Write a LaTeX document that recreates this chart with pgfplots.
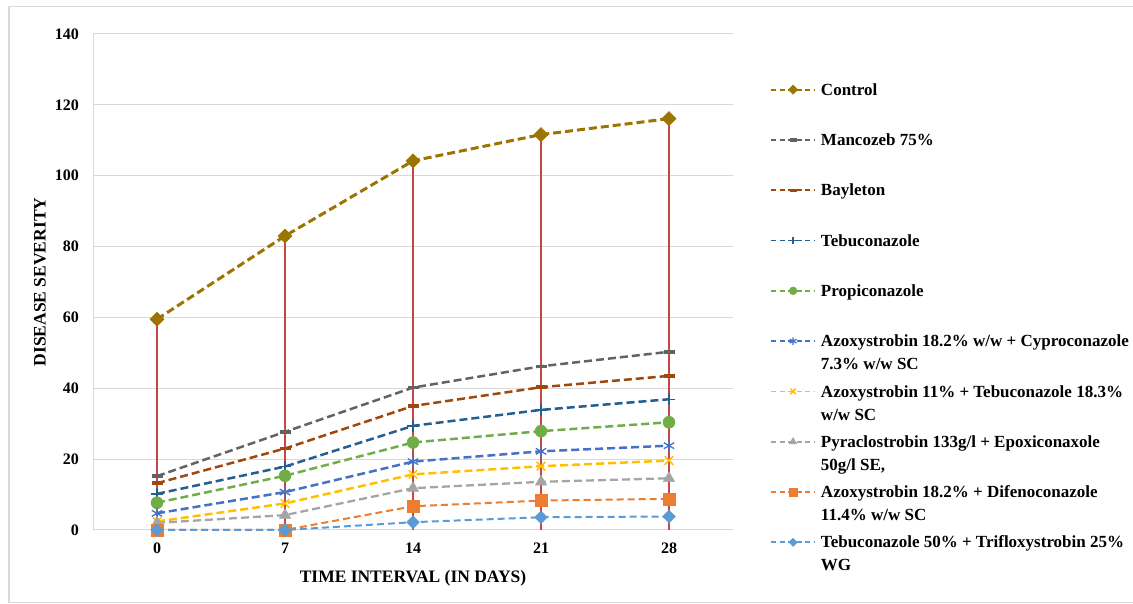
\documentclass[border=0pt]{standalone}
\usepackage{pgfplots}
\pgfplotsset{compat=1.18}
\usepackage{fontspec}
\setmainfont{Liberation Serif}
\definecolor{cControl}{RGB}{156,116,0}
\definecolor{cManco}{RGB}{99,99,99}
\definecolor{cBayl}{RGB}{158,72,14}
\definecolor{cTebu}{RGB}{37,94,145}
\definecolor{cProp}{RGB}{112,173,71}
\definecolor{cAzCy}{RGB}{68,114,196}
\definecolor{cAzTe}{RGB}{255,192,0}
\definecolor{cPyra}{RGB}{165,165,165}
\definecolor{cAzDi}{RGB}{237,125,49}
\definecolor{cTeTr}{RGB}{91,155,213}
\definecolor{cDrop}{RGB}{200,70,70}
\definecolor{cGrid}{RGB}{217,217,217}
\begin{document}
\begin{tikzpicture}[x=1pt,y=1pt]
\begin{axis}[
  at={(93pt,74pt)}, anchor=south west,
  scale only axis, width=640pt, height=496pt,
  xmin=-0.5, xmax=4.5, ymin=0, ymax=140,
  xtick={0,1,2,3,4}, xticklabels={0,7,14,21,28},
  ytick={0,20,...,140},
  ymajorgrids, grid style={draw=cGrid, line width=1pt},
  axis x line=bottom, axis y line=left,
  axis line style={draw=cGrid, line width=1pt, -},
  major tick length=0pt,
  clip=false,
  /pgf/number format/assume math mode=true,
  tick label style={font=\fontsize{16}{19}\selectfont\bfseries},
  yticklabel style={inner sep=0pt, anchor=east, xshift=-14pt},
  xticklabel style={inner sep=0pt, anchor=north, yshift=-13pt},
  xlabel={TIME INTERVAL (IN DAYS)},
  ylabel={DISEASE SEVERITY},
  label style={font=\fontsize{17.5}{21}\selectfont\bfseries},
  xlabel style={at={(axis description cs:0.5,-0.0968)}, anchor=center},
  ylabel style={at={(axis description cs:-0.0828,0.5)}, rotate=0, anchor=center},
  legend cell align=left,
  legend style={at={(1.0578,0.9389)}, anchor=north west, draw=none, fill=none,
    inner sep=0pt, row sep=0pt, column sep=2pt,
    font=\fontsize{17}{23}\selectfont\bfseries,
    nodes={inner sep=3pt, text height=27.7pt, text depth=16.6pt}},
  legend image code/.code={%
    \draw[mark repeat=2, mark phase=2, line width=1.8pt, dash pattern=on 5pt off 3.5pt,
      every mark/.append style={scale=0.65}]
    plot coordinates {(0pt,0pt) (22pt,0pt) (44pt,0pt)};%
  },
]
% drop lines
\addplot[ycomb, draw=cDrop, line width=1.3pt, no marks, forget plot] coordinates {
(0,59.5) (1,83.0) (2,104.2) (3,111.6) (4,116.1)};
\addplot[draw=cControl, line width=3pt, dash pattern=on 8pt off 4pt,
  mark=square*, mark size=5pt, mark options={solid, rotate=45, fill=cControl, line width=0.5pt}]
coordinates {(0,59.5) (1,83.0) (2,104.2) (3,111.6) (4,116.1)};
\addlegendentry{Control}
\addplot[draw=cManco, line width=2.5pt, dash pattern=on 8pt off 4pt,
  mark=-, mark size=5.5pt, mark options={solid, line width=3.5pt}]
coordinates {(0,15.2) (1,27.7) (2,40.2) (3,46.2) (4,50.3)};
\addlegendentry{Mancozeb 75\%}
\addplot[draw=cBayl, line width=2.5pt, dash pattern=on 8pt off 4pt,
  mark=-, mark size=5.5pt, mark options={solid, line width=3.5pt}]
coordinates {(0,13.2) (1,23.0) (2,35.0) (3,40.3) (4,43.5)};
\addlegendentry{Bayleton}
\addplot[draw=cTebu, line width=2.5pt, dash pattern=on 8pt off 4pt,
  mark=+, mark size=6pt, mark options={solid, line width=1.5pt}]
coordinates {(0,10.2) (1,17.9) (2,29.4) (3,33.9) (4,36.9)};
\addlegendentry{Tebuconazole}
\addplot[draw=cProp, line width=2.5pt, dash pattern=on 8pt off 4pt,
  mark=*, mark size=6pt, mark options={solid, fill=cProp, line width=0.5pt}]
coordinates {(0,7.7) (1,15.3) (2,24.7) (3,27.9) (4,30.4)};
\addlegendentry{Propiconazole}
\addplot[draw=cAzCy, line width=2.5pt, dash pattern=on 8pt off 4pt,
  mark=asterisk, mark size=6pt, mark options={solid, line width=1.3pt}]
coordinates {(0,4.7) (1,10.7) (2,19.3) (3,22.2) (4,23.8)};
\addlegendentry{\parbox[t]{330pt}{Azoxystrobin 18.2\% w/w + Cyproconazole\\7.3\% w/w SC}}
\addplot[draw=cAzTe, line width=2.5pt, dash pattern=on 8pt off 4pt,
  mark=x, mark size=6pt, mark options={solid, line width=1.5pt}]
coordinates {(0,2.4) (1,7.5) (2,15.7) (3,18.0) (4,19.6)};
\addlegendentry{\parbox[t]{330pt}{Azoxystrobin 11\% + Tebuconazole 18.3\%\\w/w SC}}
\addplot[draw=cPyra, line width=2.3pt, dash pattern=on 8pt off 4pt,
  mark=triangle*, mark size=6.5pt, mark options={solid, fill=cPyra, line width=0.5pt}]
coordinates {(0,2.0) (1,4.2) (2,11.8) (3,13.6) (4,14.6)};
\addlegendentry{\parbox[t]{330pt}{Pyraclostrobin 133g/l + Epoxiconaxole\\50g/l SE,}}
\addplot[draw=cAzDi, line width=2pt, dash pattern=on 7pt off 4pt,
  mark=square*, mark size=6pt, mark options={solid, fill=cAzDi, line width=0.5pt}]
coordinates {(0,0) (1,0) (2,6.7) (3,8.3) (4,8.8)};
\addlegendentry{\parbox[t]{330pt}{Azoxystrobin 18.2\% + Difenoconazole\\11.4\% w/w SC}}
\addplot[draw=cTeTr, line width=2pt, dash pattern=on 7pt off 4pt,
  mark=square*, mark size=4.5pt, mark options={solid, rotate=45, fill=cTeTr, line width=0.5pt}]
coordinates {(0,0) (1,0) (2,2.2) (3,3.6) (4,3.8)};
\addlegendentry{\parbox[t]{330pt}{Tebuconazole 50\% + Trifloxystrobin 25\%\\WG}}
\end{axis}
\draw[draw=cGrid, line width=1.5pt] (1140,597.3) -- (9,597.3) -- (9,1.5) -- (1140,1.5);
\pgfresetboundingbox
\useasboundingbox (0,0) rectangle (1133,604);
\end{tikzpicture}
\end{document}
